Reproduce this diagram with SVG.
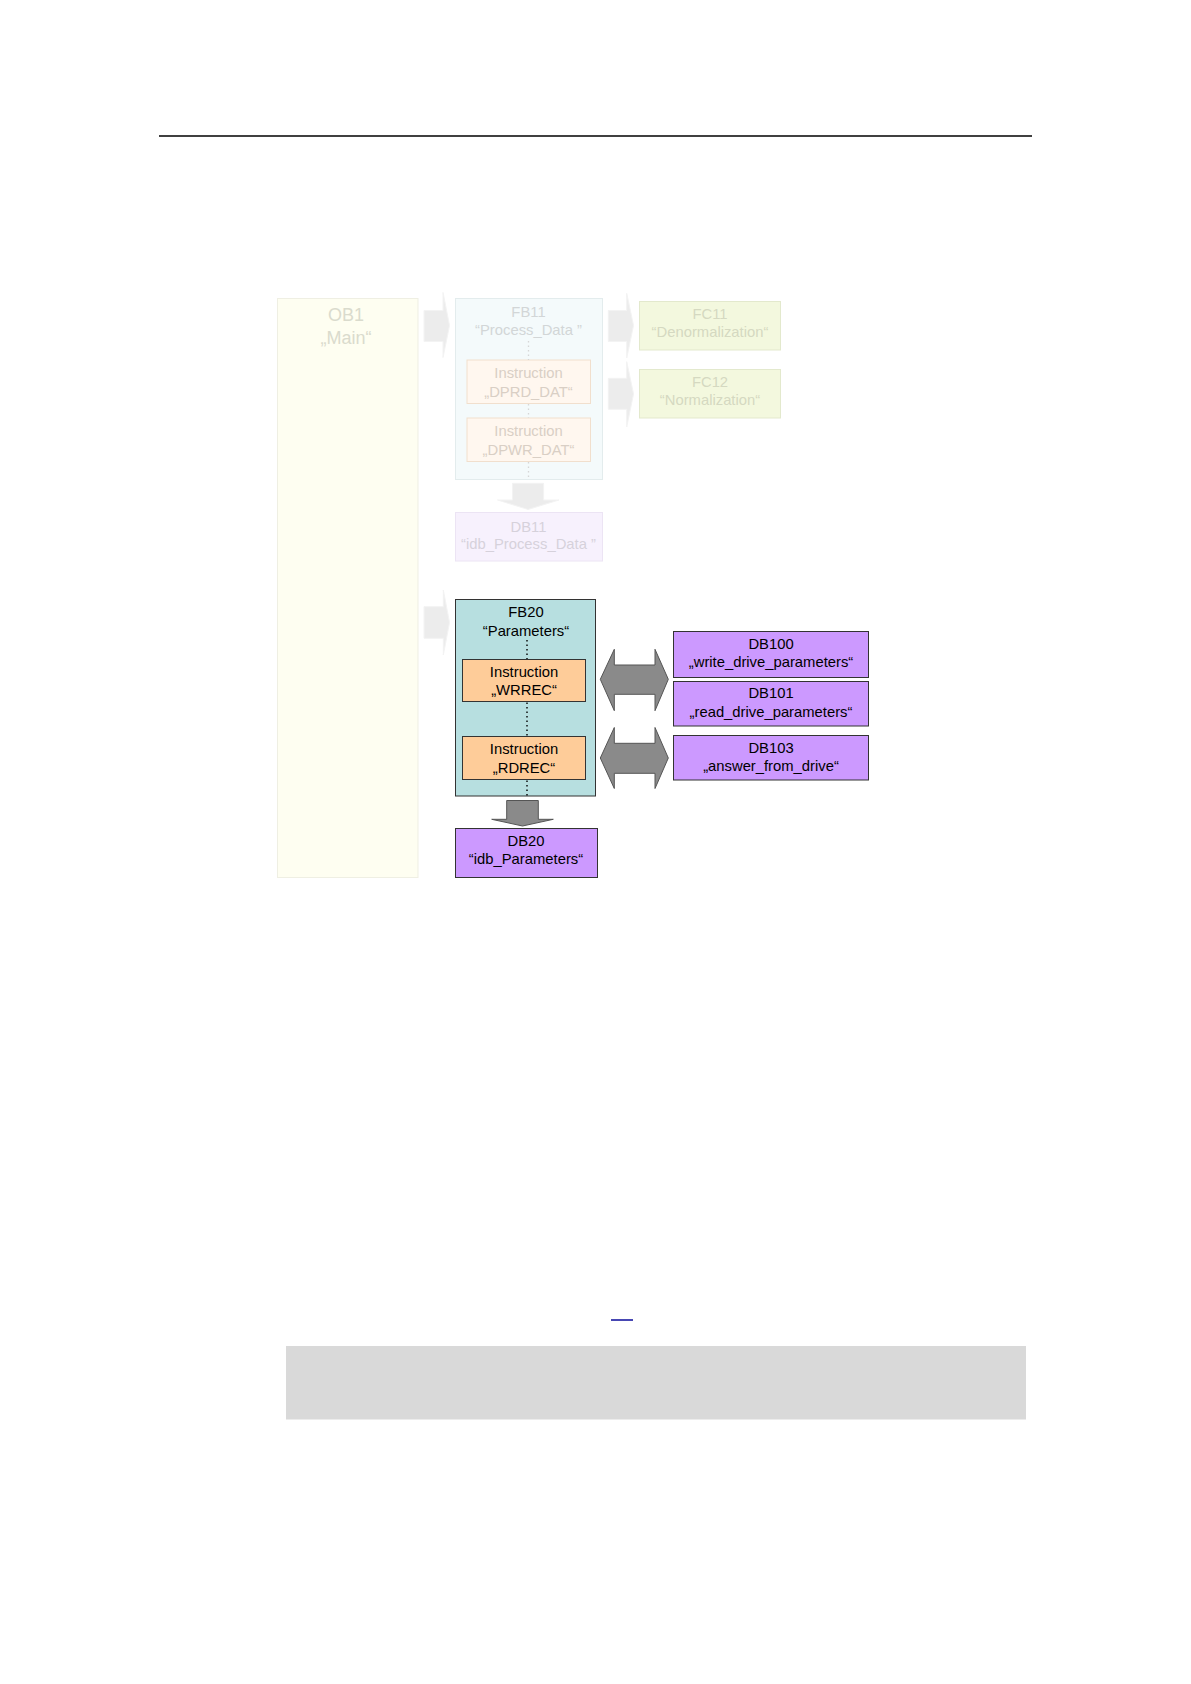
<svg xmlns="http://www.w3.org/2000/svg" width="1191" height="1684" viewBox="0 0 1191 1684">
<style>
text{font-family:"Liberation Sans",Arial,sans-serif;font-size:14.8px;text-anchor:middle}
.dk{fill:#000}
.lt{fill:#d2d6d7}
.ltY{fill:#dadbcd}
.ltO{fill:#d9cfc5}
.ltG{fill:#d5d9c1}
.ltP{fill:#d6d1db}
.dot{stroke:#000;stroke-width:1.4;stroke-dasharray:1.5 3;fill:none}
.dotL{stroke:#d6d6d6;stroke-width:1.3;stroke-dasharray:1.5 3;fill:none}
.arL{fill:#ececec;stroke:#f3f3f3;stroke-width:1}
.arD{fill:#8a8a8a;stroke:#555;stroke-width:1}
.box{stroke:#333;stroke-width:1}
</style>
<rect width="1191" height="1684" fill="#fff"/>
<line x1="159" y1="136" x2="1032" y2="136" stroke="#000" stroke-width="1.4"/>

<g id="OB1">
<rect x="277.5" y="298.5" width="140.5" height="579" fill="#fefef1" stroke="#efefe3"/>
<text class="ltY" x="346" y="320.5" style="font-size:18px">OB1</text>
<text class="ltY" x="346" y="344" style="font-size:18px">„Main“</text>
</g>

<g id="FB11">
<rect x="455.5" y="298.5" width="147" height="181" fill="#f4fafb" stroke="#e3eced"/>
<text class="lt" x="528.5" y="316.5">FB11</text>
<text class="lt" x="528.5" y="335">“Process_Data ”</text>
</g>
<g id="DPRD_DAT">
<rect x="467" y="360" width="123.5" height="43.5" fill="#fff7ef" stroke="#f1dfcd"/>
<text class="ltO" x="528.5" y="378.3">Instruction</text>
<text class="ltO" x="528.5" y="396.7">„DPRD_DAT“</text>
</g>
<g id="DPWR_DAT">
<rect x="467" y="418" width="123.5" height="43.5" fill="#fff7ef" stroke="#f1dfcd"/>
<text class="ltO" x="528.5" y="436.3">Instruction</text>
<text class="ltO" x="528.5" y="454.7">„DPWR_DAT“</text>
</g>
<g id="DB11">
<rect x="455.5" y="512.5" width="147" height="48.5" fill="#f7f1fd" stroke="#ece4f4"/>
<text class="ltP" x="528.5" y="531.7">DB11</text>
<text class="ltP" x="528.5" y="549.3">“idb_Process_Data ”</text>
</g>
<g id="FC11">
<rect x="639.5" y="301.5" width="141" height="48.5" fill="#f3f8de" stroke="#e3e9cd"/>
<text class="ltG" x="710" y="319">FC11</text>
<text class="ltG" x="710" y="337.3">“Denormalization“</text>
</g>
<g id="FC12">
<rect x="639.5" y="369.5" width="141" height="48.5" fill="#f3f8de" stroke="#e3e9cd"/>
<text class="ltG" x="710" y="387">FC12</text>
<text class="ltG" x="710" y="405.3">“Normalization“</text>
</g>

<g id="FB20">
<rect class="box" x="455.5" y="599.5" width="140" height="196.5" fill="#b7dfe0"/>
<text class="dk" x="526" y="617.3">FB20</text>
<text class="dk" x="526" y="636">“Parameters“</text>
</g>
<g id="WRREC">
<rect class="box" x="462.5" y="659.5" width="123" height="42" fill="#fecc99"/>
<text class="dk" x="524" y="676.7">Instruction</text>
<text class="dk" x="524" y="695">„WRREC“</text>
</g>
<g id="RDREC">
<rect class="box" x="462.5" y="736.5" width="123" height="43" fill="#fecc99"/>
<text class="dk" x="524" y="754.3">Instruction</text>
<text class="dk" x="524" y="773.3">„RDREC“</text>
</g>
<g id="DB20">
<rect class="box" x="455.5" y="828.5" width="142" height="49" fill="#cc99ff"/>
<text class="dk" x="526" y="845.7">DB20</text>
<text class="dk" x="526" y="864.3">“idb_Parameters“</text>
</g>
<g id="DB100">
<rect class="box" x="673.5" y="631.5" width="195" height="46" fill="#cc99ff"/>
<text class="dk" x="771" y="649">DB100</text>
<text class="dk" x="771" y="667.3">„write_drive_parameters“</text>
</g>
<g id="DB101">
<rect class="box" x="673.5" y="681.5" width="195" height="44.5" fill="#cc99ff"/>
<text class="dk" x="771" y="698.3">DB101</text>
<text class="dk" x="771" y="716.7">„read_drive_parameters“</text>
</g>
<g id="DB103">
<rect class="box" x="673.5" y="735.5" width="195" height="44.5" fill="#cc99ff"/>
<text class="dk" x="771" y="752.7">DB103</text>
<text class="dk" x="771" y="771">„answer_from_drive“</text>
</g>

<g id="connectors">
<path class="arL" d="M424,310.5 H443 V292.5 L449.5,325.5 L443,357.5 V341.5 H424 Z"/>
<path class="arL" d="M608.3,310.5 H626.7 V293.3 L633.5,325.5 L626.7,358 V341.5 H608.3 Z"/>
<path class="arL" d="M608.3,378.3 H626.7 V361.7 L633.5,394 L626.7,427 V409.3 H608.3 Z"/>
<path class="arL" d="M512.5,483.3 H543.6 V500 H559 L528,509.5 L497.5,500 H512.5 Z"/>
<path class="arL" d="M424,606.7 H443.3 V590 L449.5,622.5 L443.3,655 V638.3 H424 Z"/>
<line class="dotL" x1="528.5" y1="341" x2="528.5" y2="360"/>
<line class="dotL" x1="528.5" y1="404" x2="528.5" y2="418"/>
<line class="dotL" x1="528.5" y1="462" x2="528.5" y2="479"/>
<line class="dot" x1="527" y1="640" x2="527" y2="659"/>
<line class="dot" x1="527" y1="702.5" x2="527" y2="736"/>
<line class="dot" x1="527" y1="780.5" x2="527" y2="796"/>
<path class="arD" d="M506.7,800.5 H538.3 V819.3 H553.3 L522.5,826 L491.7,819.3 H506.7 Z"/>
<path class="arD" d="M600.3,679.3 L614.3,649.3 V665 H655 V649.3 L668.3,679.3 L655,710.7 V694.3 H614.3 V710.7 Z"/>
<path class="arD" d="M600.3,758 L614.3,727.5 V743.3 H655 V727.5 L668.3,758 L655,788.5 V773.3 H614.3 V788.5 Z"/>
</g>

<line x1="611" y1="1320" x2="633" y2="1320" stroke="#1a1aa0" stroke-width="1.6"/>
<rect x="286" y="1346" width="740" height="73.5" fill="#d9d9d9"/>
</svg>
